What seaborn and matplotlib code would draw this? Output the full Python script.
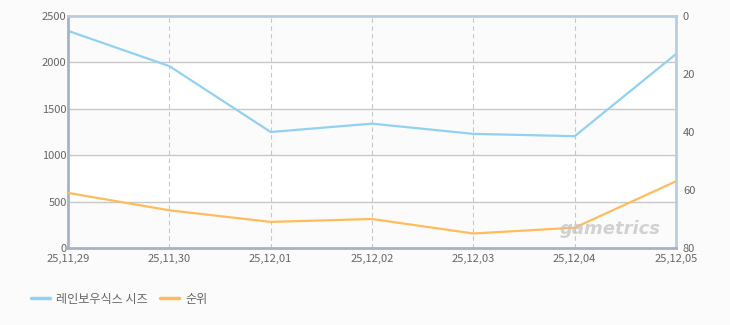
import matplotlib
matplotlib.use("Agg")
import matplotlib.pyplot as plt
import seaborn as sns
import pandas as pd
from matplotlib.lines import Line2D

dates = ["25,11,29", "25,11,30", "25,12,01", "25,12,02", "25,12,03", "25,12,04", "25,12,05"]
share = [2340, 1960, 1250, 1340, 1230, 1205, 2090]
rank = [61, 67, 71, 70, 75, 73, 57]
left_ticks = [0, 500, 1000, 1500, 2000, 2500]
right_ticks = [0, 20, 40, 60, 80]
series_names = ["레인보우식스 시즈", "순위"]

sns.set_theme(style="white")
plt.rcParams['font.family'] = ['Noto Sans CJK KR', 'DejaVu Sans']

BLUE = "#92d1f2"
ORANGE = "#fdbd5c"
TXT = "#666666"

df = pd.DataFrame({"x": range(len(dates)), "share": share, "rank": rank})

fig = plt.figure(figsize=(7.3, 3.25), dpi=100, facecolor="#fbfbfb")
ax = fig.add_axes([68/730, 77/325, 608/730, 232/325])
ax.set_facecolor("#ffffff")

# alternating bands
for i, (lo, hi) in enumerate(zip(left_ticks[:-1], left_ticks[1:])):
    if i % 2 == 0:
        ax.axhspan(lo, hi, color="#fbfbfb", zorder=0, lw=0)

sns.lineplot(data=df, x="x", y="share", ax=ax, color=BLUE, lw=1.6, zorder=5)
ax.set_xlim(0, len(dates) - 1)
ax.set_ylim(0, 2500)
ax.set_yticks(left_ticks)
ax.set_xticks(range(len(dates)))
ax.set_xticklabels(dates)
ax.set_xlabel("")
ax.set_ylabel("")
for y in left_ticks[1:-1]:
    ax.axhline(y, color="#c8c8c8", lw=1, zorder=1)
for x in range(1, len(dates) - 1):
    ax.axvline(x, color="#c8c8c8", lw=0.8, ls=(0, (4, 3)), zorder=1)

ax2 = ax.twinx()
sns.lineplot(data=df, x="x", y="rank", ax=ax2, color=ORANGE, lw=1.6, zorder=5)
ax2.set_ylim(80, 0)
ax2.set_yticks(right_ticks)
ax2.set_ylabel("")
ax2.set_xlim(0, len(dates) - 1)

for a in (ax, ax2):
    a.tick_params(axis="both", length=0, labelsize=8, colors=TXT, pad=2)
    for s in a.spines.values():
        s.set_visible(False)

for side, col in (("left", "#a4b4c6"), ("bottom", "#a4b4c6"),
                  ("top", "#b9cde0"), ("right", "#b9cde0")):
    ax2.spines[side].set_visible(True)
    ax2.spines[side].set_color(col)
    ax2.spines[side].set_linewidth(2)
ax.tick_params(axis="x", pad=4)
ax.tick_params(axis="y", pad=1)
ax2.tick_params(axis="y", pad=5)

# watermark
fig.text(610/730, 1 - 229/325, "gametrics", ha="center", va="center",
         fontsize=13, fontweight="bold", style="italic", color="#c4c4c4",
         alpha=0.75, family="DejaVu Sans")

handles = [Line2D([], [], color=BLUE, lw=2.5), Line2D([], [], color=ORANGE, lw=2.5)]
fig.legend(handles, series_names, loc="center left", bbox_to_anchor=(20/730, 1 - 299/325),
           ncol=2, frameon=False, fontsize=8.7, handlelength=1.6, handletextpad=0.5,
           columnspacing=1.0, labelcolor=TXT)

fig.savefig("out.png", dpi=100, facecolor=fig.get_facecolor())
